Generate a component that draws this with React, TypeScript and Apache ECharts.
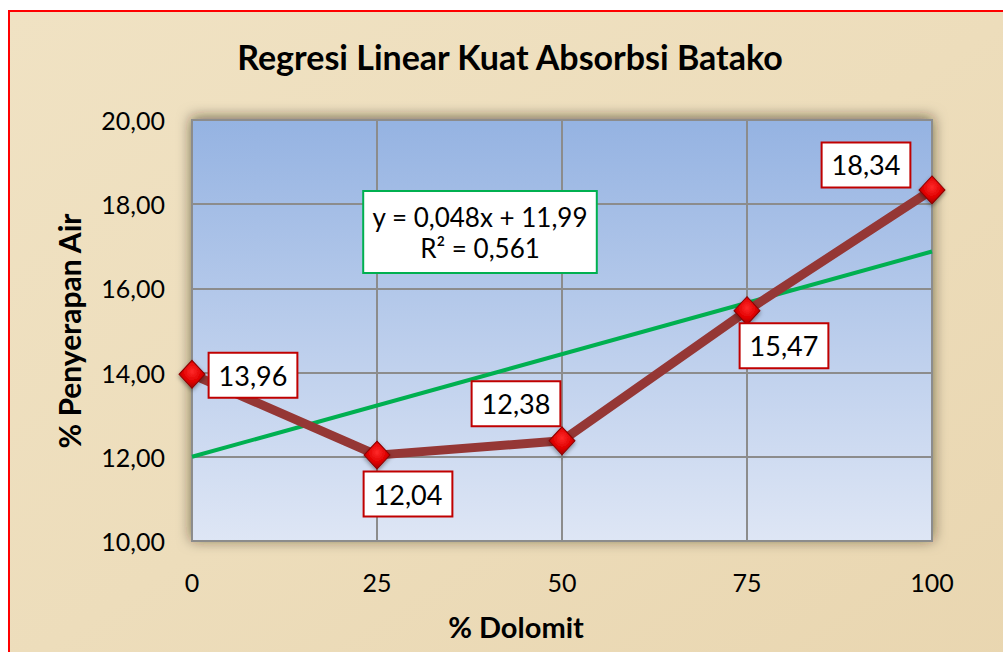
import React, { useEffect, useRef } from "react";
import * as echarts from "echarts";

const titleText = "Regresi Linear Kuat Absorbsi Batako";
const xAxisName = "% Dolomit";
const yAxisName = "% Penyerapan Air";
const xValues = [0, 25, 50, 75, 100];
const yValues = [13.96, 12.04, 12.38, 15.47, 18.34];
const equationText = "y = 0,048x + 11,99\nR² = 0,561";
const labelOffsets: [number, number][] = [
  [61, 1],
  [31, 39],
  [-46, -37],
  [37, 35],
  [-66, -25],
];

const FONT = "Lato, 'Open Sans', sans-serif";
const fmt = (v: number) => v.toFixed(2).replace(".", ",");

function regression(xs: number[], ys: number[]) {
  const n = xs.length;
  const mx = xs.reduce((a, b) => a + b, 0) / n;
  const my = ys.reduce((a, b) => a + b, 0) / n;
  let sxy = 0;
  let sxx = 0;
  for (let i = 0; i < n; i++) {
    sxy += (xs[i] - mx) * (ys[i] - my);
    sxx += (xs[i] - mx) * (xs[i] - mx);
  }
  const m = sxy / sxx;
  return { m, b: my - m * mx };
}

export default function App() {
  const ref = useRef<HTMLDivElement>(null);
  useEffect(() => {
    if (!ref.current) return;
    const chart = echarts.init(ref.current, undefined, { renderer: "svg" });
    const { m, b } = regression(xValues, yValues);
    const xMin = Math.min(...xValues);
    const xMax = Math.max(...xValues);
    const trend = [
      [xMin, m * xMin + b],
      [xMax, m * xMax + b],
    ];
    chart.setOption({
      animation: false,
      backgroundColor: "#ffffff",
      graphic: [
        {
          type: "rect",
          z: -10,
          silent: true,
          shape: { x: 9, y: 11, width: 1010, height: 660 },
          style: {
            fill: new echarts.graphic.LinearGradient(0, 0, 1, 1, [
              { offset: 0, color: "#F0E2C3" },
              { offset: 0.5, color: "#EDDDBB" },
              { offset: 1, color: "#E9D6B0" },
            ]),
            stroke: "#FF0000",
            lineWidth: 2,
          },
        },
        {
          type: "text",
          x: 510,
          y: 56,
          style: {
            text: titleText,
            font: `bold 34px ${FONT}`,
            fill: "#000",
            align: "center",
            verticalAlign: "middle",
          },
        },
        {
          type: "text",
          x: 69,
          y: 331,
          rotation: Math.PI / 2,
          style: {
            text: yAxisName,
            font: `bold 30px ${FONT}`,
            fill: "#000",
            align: "center",
            verticalAlign: "middle",
          },
        },
        {
          type: "text",
          x: 516,
          y: 626,
          style: {
            text: xAxisName,
            font: `bold 29px ${FONT}`,
            fill: "#000",
            align: "center",
            verticalAlign: "middle",
          },
        },
        {
          type: "text",
          x: 480,
          y: 232,
          z: 100,
          style: {
            text: equationText,
            font: `26px ${FONT}`,
            lineHeight: 31,
            fill: "#000",
            align: "center",
            verticalAlign: "middle",
            backgroundColor: "#ffffff",
            borderColor: "#00B050",
            borderWidth: 2,
            padding: [9, 8],
          },
        },
      ],
      grid: {
        left: 192,
        top: 120,
        right: 71,
        bottom: 111,
        show: true,
        borderColor: "#8C8C8C",
        borderWidth: 2,
        backgroundColor: new echarts.graphic.LinearGradient(0, 0, 0, 1, [
          { offset: 0, color: "#95B3E2" },
          { offset: 1, color: "#DEE6F5" },
        ]),
        shadowBlur: 14,
        shadowColor: "rgba(40,30,10,0.6)",
        shadowOffsetX: 0,
        shadowOffsetY: -2,
      },
      xAxis: {
        type: "value",
        min: 0,
        max: 100,
        interval: 25,
        axisLine: { show: false },
        axisTick: { show: false },
        axisLabel: { margin: 28, fontFamily: FONT, fontSize: 25, color: "#000" },
        splitLine: { show: true, lineStyle: { color: "#8C8C8C", width: 2 } },
      },
      yAxis: {
        type: "value",
        min: 10,
        max: 20,
        interval: 2,
        axisLine: { show: false },
        axisTick: { show: false },
        axisLabel: {
          margin: 27,
          fontFamily: FONT,
          fontSize: 25,
          color: "#000",
          formatter: (v: number) => fmt(v),
        },
        splitLine: { show: true, lineStyle: { color: "#8C8C8C", width: 2 } },
      },
      series: [
        {
          type: "line",
          data: trend,
          symbol: "none",
          lineStyle: { color: "#00B050", width: 4 },
          z: 2,
          silent: true,
        },
        {
          type: "line",
          data: xValues.map((x, i) => ({
            value: [x, yValues[i]],
            label: { offset: labelOffsets[i] },
          })),
          symbol: "diamond",
          symbolSize: [26, 28],
          lineStyle: { color: "#953735", width: 9 },
          itemStyle: {
            color: new echarts.graphic.RadialGradient(0.5, 0.4, 0.6, [
              { offset: 0, color: "#FF2A2A" },
              { offset: 0.6, color: "#E00000" },
              { offset: 1, color: "#A00000" },
            ]),
            borderColor: "#8A0000",
            borderWidth: 1,
            shadowBlur: 4,
            shadowColor: "rgba(0,0,0,0.4)",
            shadowOffsetY: 2,
          },
          z: 3,
          label: {
            show: true,
            position: "inside",
            align: "center",
            verticalAlign: "middle",
            formatter: (p: any) => fmt(p.value[1]),
            fontFamily: FONT,
            fontSize: 27,
            lineHeight: 31,
            color: "#000",
            backgroundColor: "#ffffff",
            borderColor: "#C00000",
            borderWidth: 2,
            padding: [6, 9],
          },
        },
      ],
    });
    return () => chart.dispose();
  }, []);
  return (
    <div
      ref={ref}
      style={{ position: "fixed", left: 0, top: 0, width: 1003, height: 652 }}
    />
  );
}
